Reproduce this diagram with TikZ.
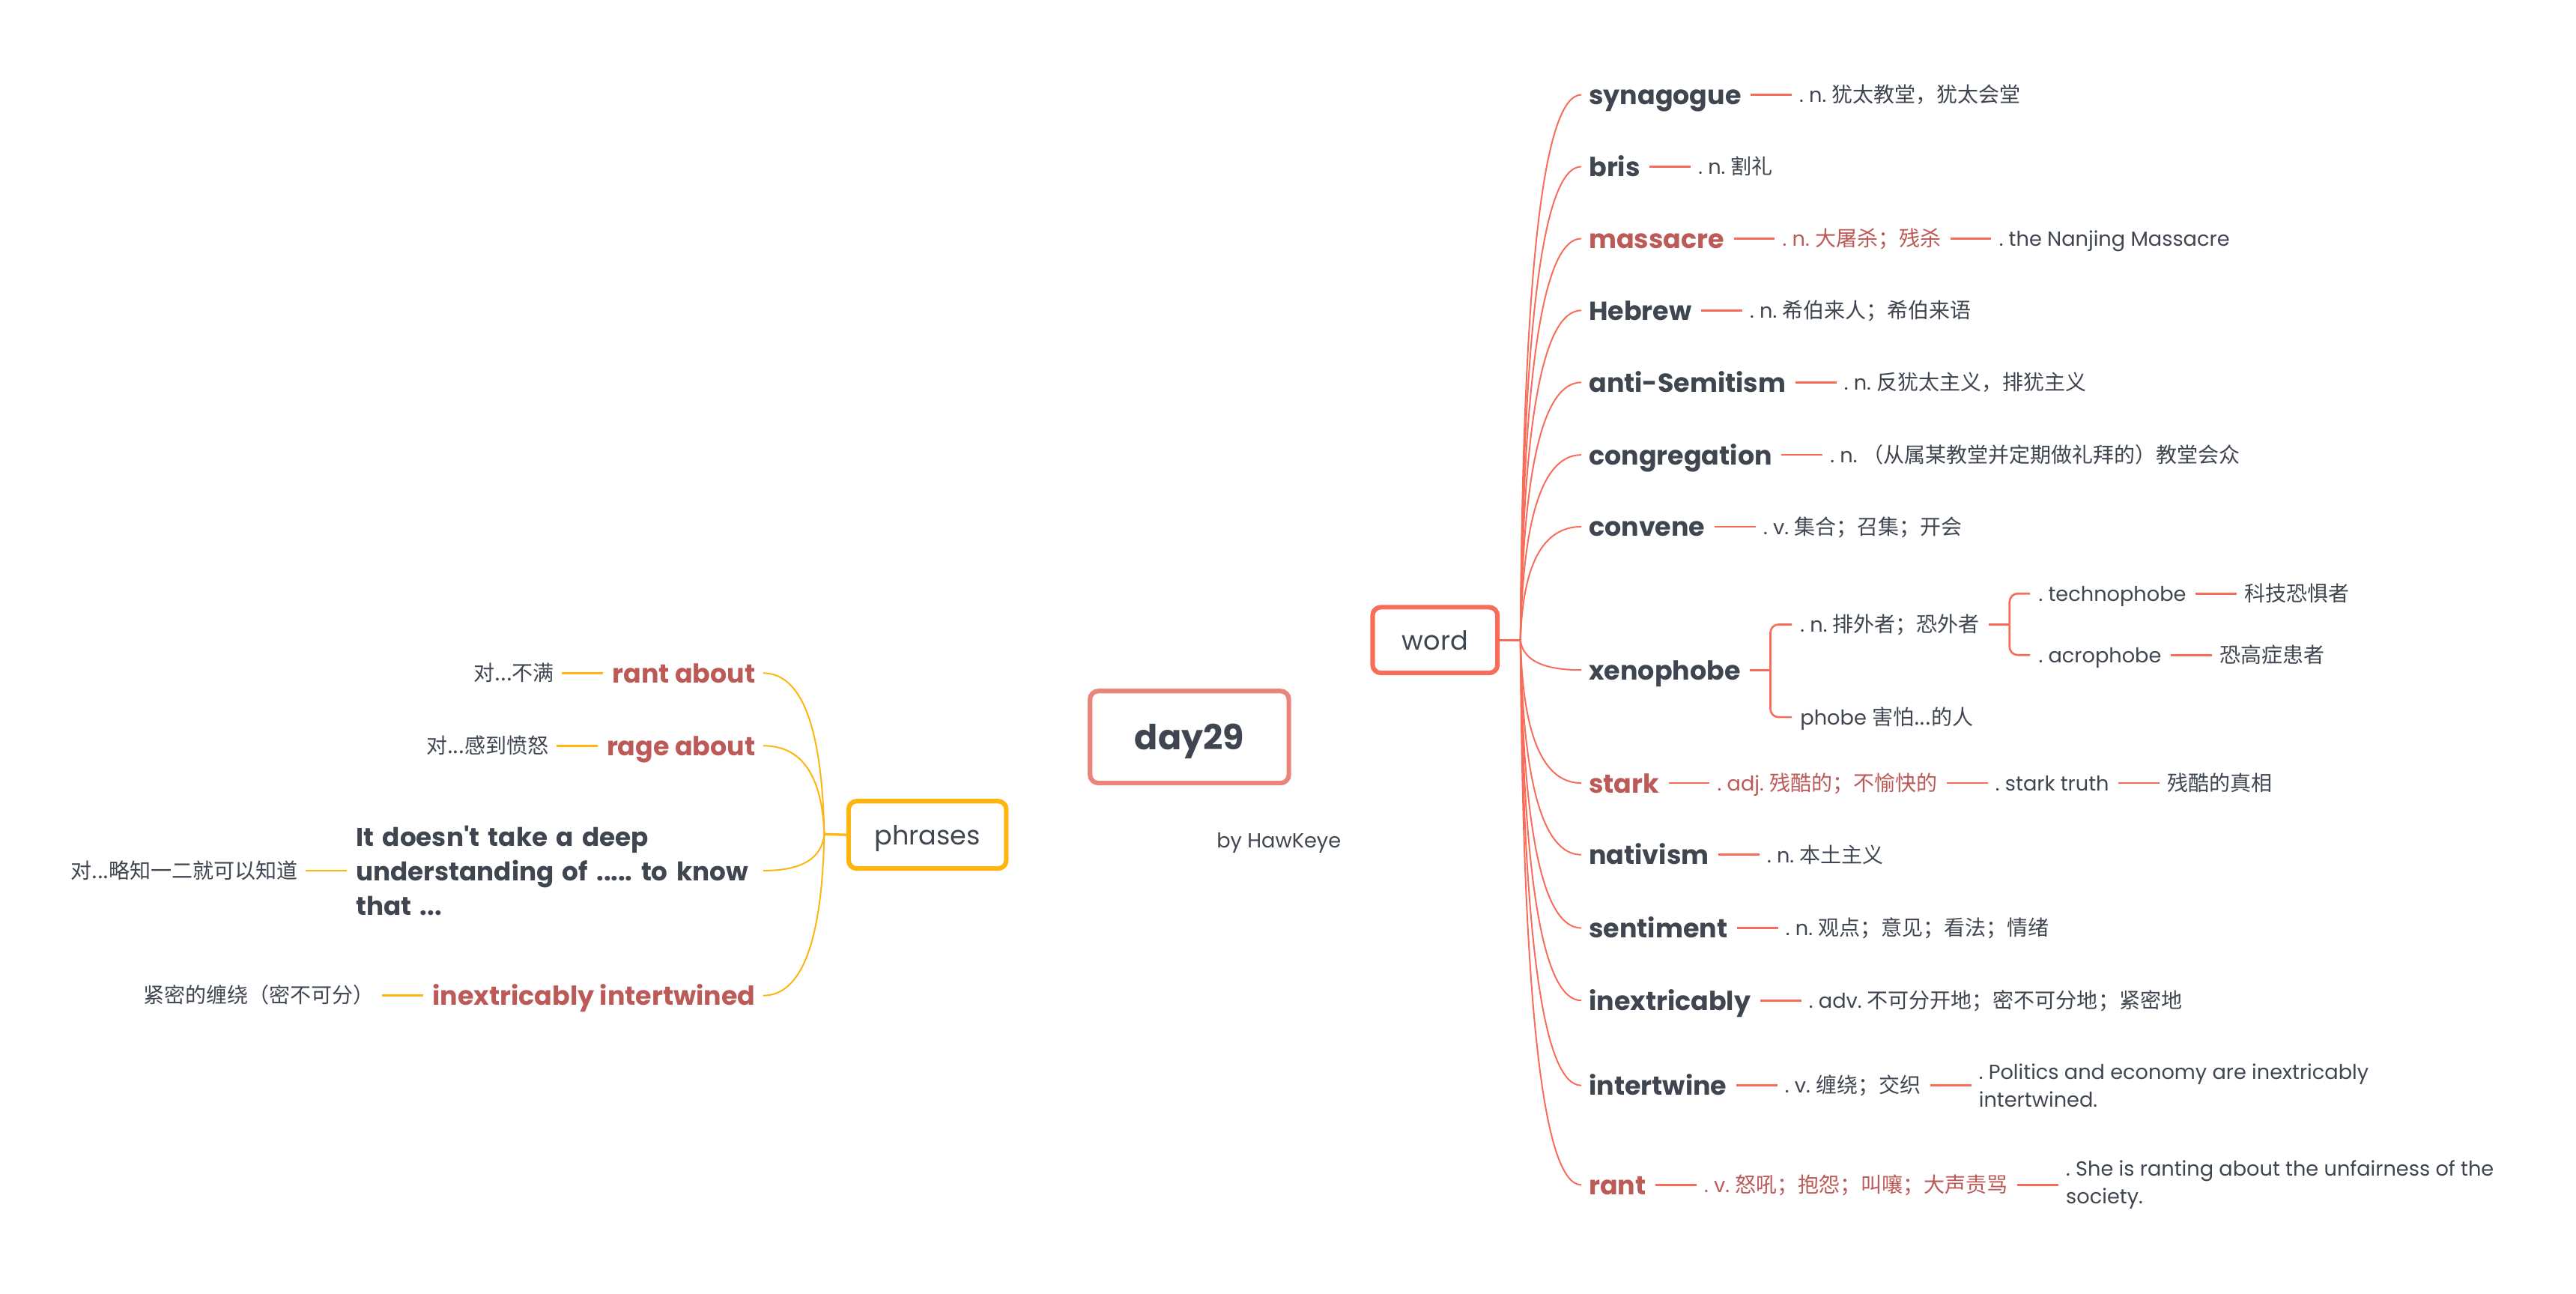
\documentclass[tikz,border=0pt]{standalone}
\usepackage{fontspec}
\setmainfont{Poppins}
\newfontfamily\cjk[Scale=1.03]{Noto Sans CJK SC}
\usetikzlibrary{positioning,calc}
\definecolor{ink}{HTML}{3F4650}
\definecolor{redt}{HTML}{BC5A58}
\definecolor{coral}{HTML}{F86D59}
\definecolor{salmon}{HTML}{EB8479}
\definecolor{amber}{HTML}{FFB50F}
\newcommand\zh[1]{{\cjk #1}}
\pgfdeclarelayer{bg}
\pgfsetlayers{bg,main}
\newcommand\fanR[1]{%
  \coordinate (tq) at ($(#1.west)+(-4.5,0)$);
  \coordinate (cq) at ($(J |- tq)+(2,0)$);
  \draw[rfan] (J) .. controls ($(J)!0.6667!(cq)$) and ($(tq)!0.6667!(cq)$) .. (tq);}
\newcommand\fanL[1]{%
  \coordinate (tq) at ($(#1.east)+(4.5,0)$);
  \coordinate (cq) at ($(K |- tq)+(-2,0)$);
  \draw[lfan] (K) .. controls ($(K)!0.6667!(cq)$) and ($(tq)!0.6667!(cq)$) .. (tq);}
\frenchspacing
\begin{document}
\begin{tikzpicture}[x=1pt,y=-1pt,
  wordn/.style={font=\fontsize{15.9}{21}\selectfont\bfseries, text=ink, inner sep=0pt, anchor=west, text height=12pt, text depth=0.2pt},
  redw/.style={text=redt},
  defn/.style={font=\fontsize{12.4}{17}\selectfont, text=ink, inner sep=0pt, anchor=west, text height=9.6pt, text depth=0.2pt},
  multi/.style={font=\fontsize{12.4}{17}\selectfont, text=ink, inner sep=0pt, anchor=west, align=left},
  rstub/.style={draw=coral, line width=1.2pt, shorten <=5.5pt, shorten >=4.5pt},
  lstub/.style={draw=amber, line width=1.2pt, shorten <=5.5pt, shorten >=4.5pt},
  rfan/.style={draw=coral, line width=0.9pt},
  lfan/.style={draw=amber, line width=0.9pt},
  rline/.style={draw=coral, line width=1.2pt, rounded corners=5pt},
  rootbox/.style={draw=salmon, line width=2.8pt, rounded corners=5pt, fill=white, minimum width=121pt, minimum height=56pt, font=\fontsize{21}{24}\selectfont\bfseries, text=ink, inner sep=0pt, text height=15.8pt, text depth=0.2pt},
  mainbox/.style={line width=2.8pt, rounded corners=5pt, fill=white, minimum height=40pt, font=\fontsize{16}{18}\selectfont, text=ink, inner sep=0pt, text height=12pt, text depth=0.2pt},
  node distance=35pt
]
\useasboundingbox (0,0) rectangle (1568,787.4);
\fill[white] (0,0) rectangle (1568,787.4);

% central topics
\node[rootbox] (day) at (724,448.5) {day29};
\node[mainbox, draw=coral, minimum width=76pt] (word) at (873.5,389.5) {word};
\node[mainbox, draw=amber, minimum width=96pt, minimum height=41pt] (phr) at (564.5,508) {phrases};
\node[font=\fontsize{12.4}{14}\selectfont, text=ink, inner sep=0pt, text height=9.4pt, text depth=0.2pt] (by) at (778.4,511.5) {by HawKeye};

\begin{pgfonlayer}{bg}
  % thick tapered connector day29 -> word
  \fill[coral] ($(day.north east)+(-8,0)$) .. controls ($(day.north east)+(2,-14)$) and ($(word.west)+(-28,-1.3)$) .. ($(word.west)+(0,-1.3)$)
     -- ($(word.west)+(0,1.3)$) .. controls ($(word.west)+(-26,1.3)$) and ($(day.north east)+(8,-12)$) .. ($(day.north east)+(-1,0)$) -- cycle;
  % thick tapered connector day29 -> phrases
  \fill[amber] ($(day.south west)+(1.5,0)$) .. controls ($(day.south west)+(-7,14)$) and ($(phr.east)+(18,-1.5)$) .. ($(phr.east)+(0,-1.5)$)
     -- ($(phr.east)+(0,1.5)$) .. controls ($(phr.east)+(22,1.5)$) and ($(day.south west)+(0,16)$) .. ($(day.south west)+(9,0)$) -- cycle;
\end{pgfonlayer}

% junctions
\coordinate (J) at (925.5,389.5);
\coordinate (K) at (501.7,507.6);
\draw[draw=coral, line width=1.5pt] (word.east) -- (J);
\draw[draw=amber, line width=1.5pt] (phr.west) -- (K);

% ---------- word branch ----------
\node[wordn] (syn) at (967,57.7) {synagogue};
\node[defn, right=of syn] (syn1) {. n. \zh{犹太教堂，犹太会堂}};
\draw[rstub] (syn.east) -- (syn1.west);

\node[wordn] (bris) at (967,101.4) {bris};
\node[defn, right=of bris] (bris1) {. n. \zh{割礼}};
\draw[rstub] (bris.east) -- (bris1.west);

\node[wordn, redw] (mass) at (967,145.2) {massacre};
\node[defn, redw, right=of mass] (mass1) {. n. \zh{大屠杀；残杀}};
\node[defn, right=of mass1] (mass2) {. the Nanjing Massacre};
\draw[rstub] (mass.east) -- (mass1.west);
\draw[rstub] (mass1.east) -- (mass2.west);

\node[wordn] (heb) at (967,188.9) {Hebrew};
\node[defn, right=of heb] (heb1) {. n. \zh{希伯来人；希伯来语}};
\draw[rstub] (heb.east) -- (heb1.west);

\node[wordn] (anti) at (967,232.7) {anti-Semitism};
\node[defn, right=of anti] (anti1) {. n. \zh{反犹太主义，排犹主义}};
\draw[rstub] (anti.east) -- (anti1.west);

\node[wordn] (cong) at (967,276.8) {congregation};
\node[defn, right=of cong] (cong1) {. n. \zh{（从属某教堂并定期做礼拜的）教堂会众}};
\draw[rstub] (cong.east) -- (cong1.west);

\node[wordn] (conv) at (967,320.5) {convene};
\node[defn, right=of conv] (conv1) {. v. \zh{集合；召集；开会}};
\draw[rstub] (conv.east) -- (conv1.west);

\node[wordn] (xeno) at (967,407.7) {xenophobe};
\coordinate (xb) at ($(xeno.east)+(18,0)$);
\node[defn] (xn1) at ($(xb)+(18,-27.7)$) {. n. \zh{排外者；恐外者}};
\node[defn] (xn2) at ($(xb)+(18,28.7)$) {phobe \zh{害怕...的人}};
\draw[rline, shorten <=5.5pt] (xeno.east) -- (xb);
\draw[rline] (xb) |- ($(xn1.west)+(-5,0)$);
\draw[rline] (xb) |- ($(xn2.west)+(-5,0)$);
\coordinate (xc) at ($(xn1.east)+(18,0)$);
\node[defn] (tech) at ($(xc)+(17.5,-18.8)$) {. technophobe};
\node[defn] (acro) at ($(xc)+(17.5,18.6)$) {. acrophobe};
\draw[rline, shorten <=5.5pt] (xn1.east) -- (xc);
\draw[rline] (xc) |- ($(tech.west)+(-5,0)$);
\draw[rline] (xc) |- ($(acro.west)+(-5,0)$);
\node[defn, right=of tech] (tech1) {\zh{科技恐惧者}};
\node[defn, right=of acro] (acro1) {\zh{恐高症患者}};
\draw[rstub] (tech.east) -- (tech1.west);
\draw[rstub] (acro.east) -- (acro1.west);

\node[wordn, redw] (stark) at (967,476.5) {stark};
\node[defn, redw, right=of stark] (stark1) {. adj. \zh{残酷的；不愉快的}};
\node[defn, right=of stark1] (stark2) {. stark truth};
\node[defn, right=of stark2] (stark3) {\zh{残酷的真相}};
\draw[rstub] (stark.east) -- (stark1.west);
\draw[rstub] (stark1.east) -- (stark2.west);
\draw[rstub] (stark2.east) -- (stark3.west);

\node[wordn] (nat) at (967,520.1) {nativism};
\node[defn, right=of nat] (nat1) {. n. \zh{本土主义}};
\draw[rstub] (nat.east) -- (nat1.west);

\node[wordn] (sent) at (967,564.7) {sentiment};
\node[defn, right=of sent] (sent1) {. n. \zh{观点；意见；看法；情绪}};
\draw[rstub] (sent.east) -- (sent1.west);

\node[wordn] (inex) at (967,608.8) {inextricably};
\node[defn, right=of inex] (inex1) {. adv. \zh{不可分开地；密不可分地；紧密地}};
\draw[rstub] (inex.east) -- (inex1.west);

\node[wordn] (intw) at (967,660.5) {intertwine};
\node[defn, right=of intw] (intw1) {. v. \zh{缠绕；交织}};
\node[multi, right=of intw1] (intw2) {. Politics and economy are inextricably\\intertwined.};
\draw[rstub] (intw.east) -- (intw1.west);
\draw[rstub] (intw1.east) -- (intw2.west);

\node[wordn, redw] (rant) at (967,721) {rant};
\node[defn, redw, right=of rant] (rant1) {. v. \zh{怒吼；抱怨；叫嚷；大声责骂}};
\node[multi, right=of rant1] (rant2) {. She is ranting about the unfairness of the\\society.};
\draw[rstub] (rant.east) -- (rant1.west);
\draw[rstub] (rant1.east) -- (rant2.west);

\foreach \n in {syn,bris,mass,heb,anti,cong,conv,xeno,stark,nat,sent,inex,intw,rant} {\fanR{\n}}

% ---------- phrases branch ----------
\node[wordn, redw, anchor=east] (ra) at (460,409.6) {rant about};
\node[defn, anchor=east, left=of ra] (ra1) {\zh{对...不满}};
\draw[lstub] (ra.west) -- (ra1.east);

\node[wordn, redw, anchor=east] (rg) at (460,453.8) {rage about};
\node[defn, anchor=east, left=of rg] (rg1) {\zh{对...感到愤怒}};
\draw[lstub] (rg.west) -- (rg1.east);

\node[font=\fontsize{15.6}{21}\selectfont\bfseries, text=ink, inner sep=0pt, anchor=east, align=left, text width=243pt] (dp) at (460,529.8) {It doesn\textquotesingle t take a deep\\understanding of ..... to know\\that ...};
\node[defn, anchor=east, left=of dp] (dp1) {\zh{对...略知一二就可以知道}};
\draw[lstub] (dp.west) -- (dp1.east);

\node[wordn, redw, anchor=east] (ii) at (460,605.8) {inextricably intertwined};
\node[defn, anchor=east, left=of ii] (ii1) {\zh{紧密的缠绕（密不可分）}};
\draw[lstub] (ii.west) -- (ii1.east);

\foreach \n in {ra,rg,dp,ii} {\fanL{\n}}
\end{tikzpicture}
\end{document}
